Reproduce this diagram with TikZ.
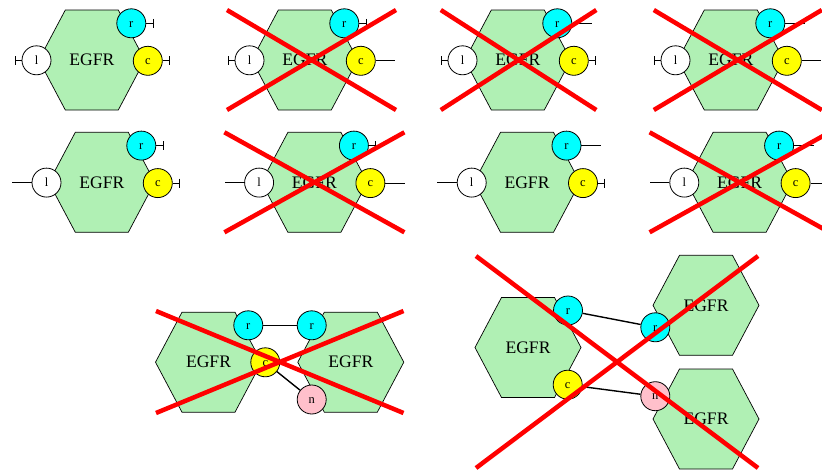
\documentclass[tikz,border=0pt]{standalone}
\usepackage{fontspec}
\setmainfont{Liberation Serif}
\usetikzlibrary{arrows.meta,calc}
\definecolor{hexgreen}{RGB}{176,240,180}
\definecolor{sitecyan}{RGB}{0,255,255}
\definecolor{siteyellow}{RGB}{255,255,0}
\definecolor{sitepink}{RGB}{255,192,203}
\tikzset{
  hexshape/.style={draw=black, line width=0.7pt, fill=hexgreen, line join=miter},
  hexlabel/.style={font=\fontsize{17.6}{20}\selectfont, inner sep=0pt},
  site/.style={circle, draw=black, line width=0.8pt, minimum size=29pt, inner sep=0pt,
    font=\fontsize{12.5}{14}\selectfont, text height=7.5pt, text depth=0pt},
  teeline/.style={draw=black, line width=0.7pt, -{Bar[width=9pt, line width=0.8pt]}},
  openline/.style={draw=black, line width=0.7pt},
  bond/.style={draw=black, line width=1.4pt},
  veto/.style={draw=red, line width=4.5pt}
}
\newcommand\egfrhex[3]{%
  \begin{scope}[shift={(#2,#3)}]
    \draw[hexshape] (-53,0) -- (-26.5,-50) -- (26.5,-50) -- (53,0) -- (26.5,50) -- (-26.5,50) -- cycle;
    \node[hexlabel] (#1) at (0,0) {EGFR};
  \end{scope}}
\newcommand\siteend[3]{%
  \if#3T\def\sitelen{22}\else\def\sitelen{34.5}\fi
  \coordinate (#1e) at ($(#1)+(#2\sitelen,0)$);
  \if#3T\draw[teeline] (#1) -- (#1e);\else\draw[openline] (#1) -- (#1e);\fi}
\newcommand\panel[6]{%
  \egfrhex{#1h}{#2}{#3}
  \node[site, fill=white] (#1l) at ($(#2,#3)+(-55.3,0.3)$) {l};
  \node[site, fill=sitecyan] (#1r) at ($(#2,#3)+(39.5,-36.7)$) {r};
  \node[site, fill=siteyellow] (#1c) at ($(#2,#3)+(56,0.8)$) {c};
  \siteend{#1l}{-}{#4}
  \siteend{#1r}{+}{#5}
  \siteend{#1c}{+}{#6}}
\begin{document}
\begin{tikzpicture}[x=1pt, y=-1pt]
\useasboundingbox (0,0) rectangle (822,474);
% row 1
\panel{pa}{91.8}{60}{T}{T}{T}
\panel{pb}{304.8}{60}{T}{T}{O}
\panel{pc}{517.8}{60}{T}{O}{T}
\panel{pd}{730.8}{60}{T}{O}{O}
% row 2
\panel{qa}{101.8}{182.3}{O}{T}{T}
\panel{qb}{314.4}{182.3}{O}{T}{O}
\panel{qc}{527}{182.3}{O}{O}{T}
\panel{qd}{739.6}{182.3}{O}{O}{O}
% bottom left
\egfrhex{blA}{208.5}{362.2}
\egfrhex{blB}{350.8}{362.2}
\node[site, fill=sitecyan] (blr1) at (248.3,325.3) {r};
\node[site, fill=sitecyan] (blr2) at (311.7,325.3) {r};
\node[site, fill=siteyellow] (blc) at (265.3,362.3) {c};
\node[site, fill=sitepink] (bln) at (311.7,399.5) {n};
\draw[bond] (blr1) -- (blr2);
\draw[bond] (blc) -- (bln);
% bottom right
\egfrhex{brA}{528}{347.5}
\egfrhex{brB}{706}{305.3}
\egfrhex{brC}{706}{419}
\node[site, fill=sitecyan] (brr1) at (568,310.5) {r};
\node[site, fill=siteyellow] (brc) at (567.7,384.7) {c};
\node[site, fill=sitecyan] (brr2) at (655.3,327.3) {r};
\node[site, fill=sitepink] (brn) at (655.3,396.2) {n};
\draw[bond] (brr1) -- (brr2);
\draw[bond] (brc) -- (brn);
% crosses
\draw[veto] (227,10) -- (396,110) (227,110) -- (396,10);
\draw[veto] (440.8,10) -- (596.3,110) (440.8,110) -- (596.3,10);
\draw[veto] (653.8,10) -- (821.8,110) (653.8,110) -- (821.8,10);
\draw[veto] (224.4,132.3) -- (404.4,232.3) (224.4,232.3) -- (404.4,132.3);
\draw[veto] (649.6,132.3) -- (829.6,232.3) (649.6,232.3) -- (829.6,132.3);
\draw[veto] (156,311) -- (403.5,413) (156,413) -- (403.5,311);
\draw[veto] (476,256) -- (758,468) (476,468) -- (758,256);
\end{tikzpicture}
\end{document}
